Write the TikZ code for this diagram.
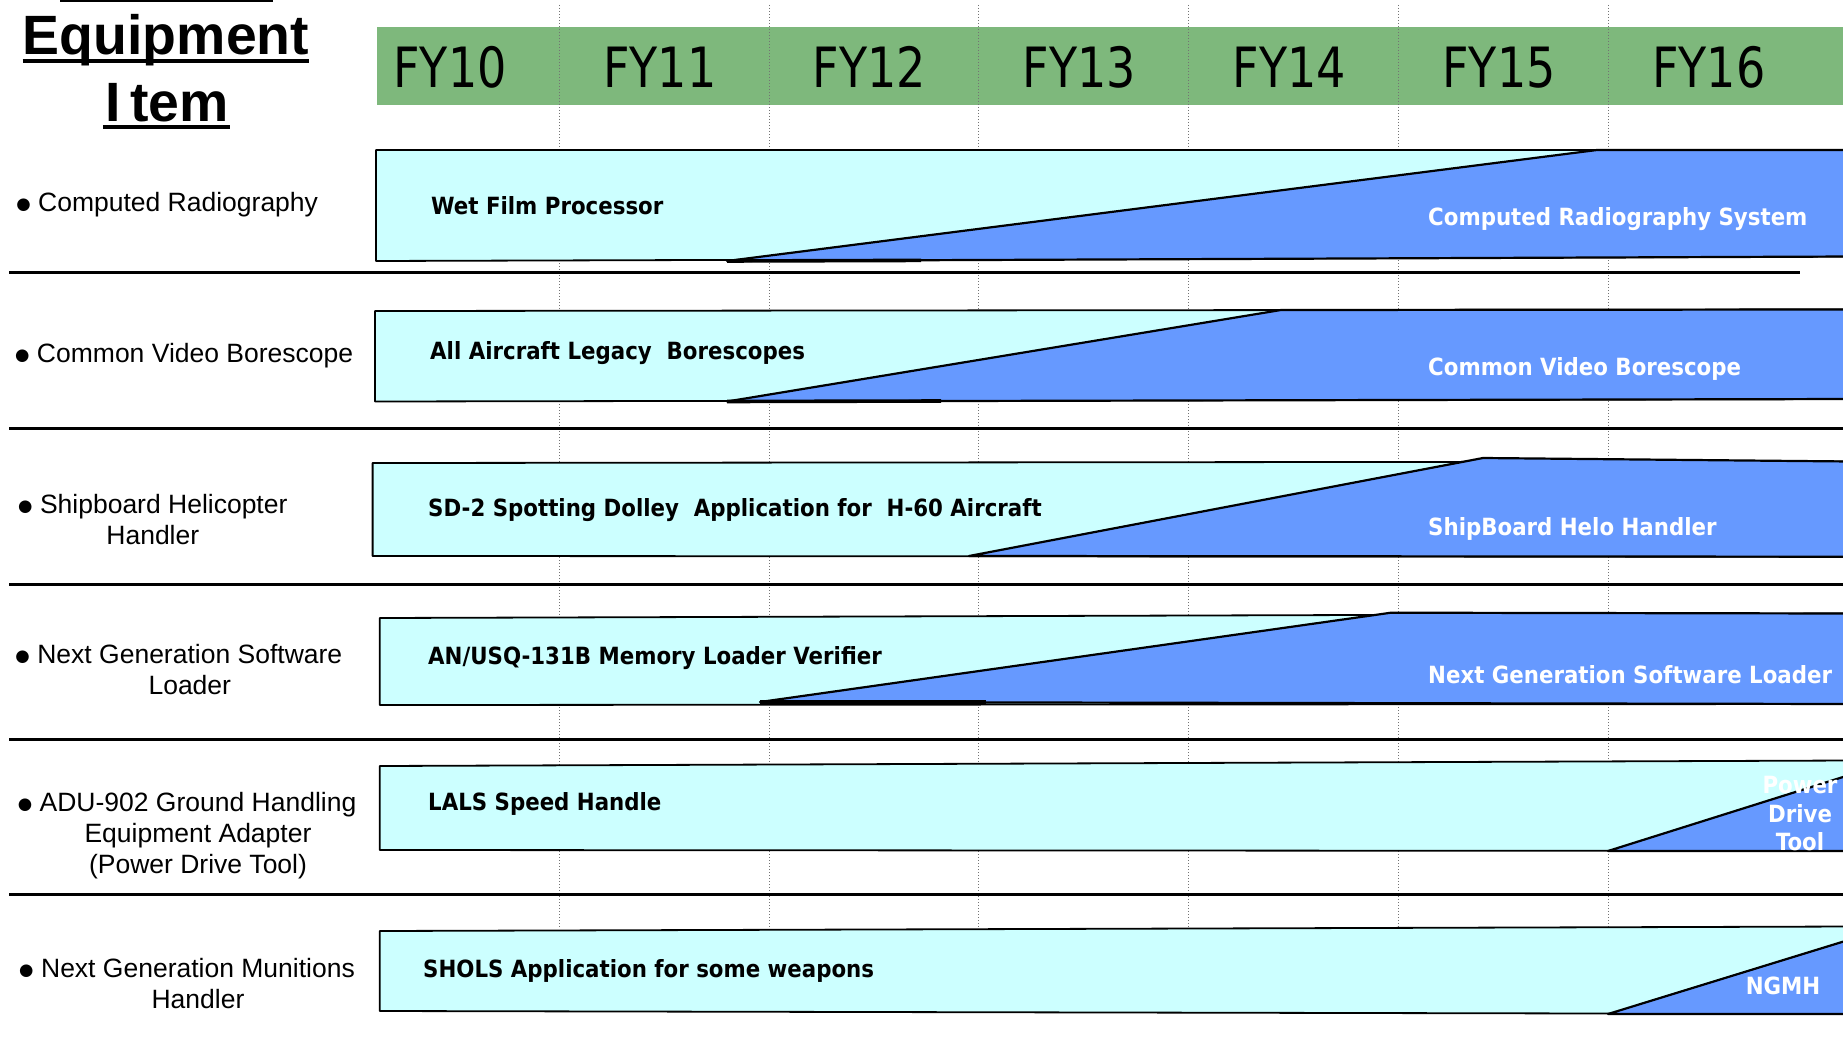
\documentclass[tikz,border=0pt]{standalone}
\usepackage{fontspec}
\setmainfont{Liberation Sans}
\newfontfamily\barfont{DejaVu Sans}[FakeStretch=0.9]
\newfontfamily\yearfont{DejaVu Sans}[FakeStretch=0.83]
\newfontfamily\bulfont{DejaVu Sans}
\definecolor{bandgreen}{RGB}{126,184,124}
\definecolor{oldfill}{RGB}{204,255,255}
\definecolor{newfill}{RGB}{102,153,255}
% bullet glyph, hanging to the left of the first line or set inline
\newcommand{\bulglyph}{\raisebox{1.8pt}{\bulfont\fontsize{16.5}{16.5}\selectfont ●}\hspace{7.5pt}}
\newcommand{\hangbul}{\llap{\bulglyph}}
\tikzset{
  sepline/.style={line width=3pt},
  gridline/.style={black!55, dotted, line width=1pt},
  oldbar/.style={fill=oldfill, draw=black, line width=1.8pt, line join=round},
  newbar/.style={fill=newfill, draw=black, line width=2.2pt, line join=round},
  baseedge/.style={line width=3.6pt},
  oldlbl/.style={anchor=base west, inner sep=0pt, font=\barfont\bfseries\fontsize{23.7}{28.5}\selectfont},
  newlbl/.style={oldlbl, text=white},
  itemlbl/.style={anchor=base, inner sep=0pt, font=\fontsize{26.5}{31}\selectfont},
  yearlbl/.style={anchor=base, inner sep=0pt, font=\yearfont\fontsize{55.5}{60}\selectfont},
  titlelbl/.style={anchor=base, inner sep=0pt, font=\bfseries\fontsize{55.4}{60}\selectfont},
  uline/.style={line width=4pt}
}
\begin{document}
\begin{tikzpicture}[x=1pt,y=-1pt]
\useasboundingbox (0,0) rectangle (1843,1046);
\clip (0,0) rectangle (1843,1046);
\fill[white] (0,0) rectangle (1843,1046);

% heading in the left column
\node[titlelbl] (ttlA) at (166,55) {Equipment};
\node[titlelbl] (ttlB) at (167,121.7) {I\kern10pt tem};
\draw[uline] ([yshift=-6pt]ttlA.base west) -- ([yshift=-6pt]ttlA.base east);
\draw[uline] ([xshift=-2pt,yshift=-5pt]ttlB.base west) -- ([xshift=1pt,yshift=-5pt]ttlB.base east);
\coordinate (topA) at (60,0.5);
\coordinate (topB) at (273,0.5);
\draw[uline] (topA) -- (topB);

% fiscal-year band
\fill[bandgreen] (377,27) rectangle (1850,105);

% year grid
\foreach \gx in {559.5,769.2,978.9,1188.6,1398.3,1608.0}
  \draw[gridline] (\gx,5) -- (\gx,928);

\foreach \lbl [count=\k from 0] in {FY10,FY11,FY12,FY13,FY14,FY15,FY16}
  \node[yearlbl] (yr\k) at (450+209.8*\k,88) {\lbl};

% row separators
\draw[sepline] (9.4,272.5) -- (1800,272.5);
\draw[sepline] (9.4,428) -- (1850,428);
\draw[sepline] (9.4,584) -- (1850,584);
\draw[sepline] (9.4,739.3) -- (1850,739.3);
\draw[sepline] (9.4,894.5) -- (1850,894.5);

% row 1
\path[oldbar] (376,150) -- (1850,150) -- (1850,256.5) -- (376,261) -- cycle;
\path[newbar] (727,261) -- (1597,150) -- (1850,150) -- (1850,256.5) -- cycle;
\draw[baseedge] (727,261) -- (921,260.4);
\node[oldlbl] (old1) at (431,214.4) {Wet Film Processor};
\node[newlbl] (new1) at (1428,225) {Computed Radiography System};

% row 2
\path[oldbar] (375,311) -- (1850,309.5) -- (1850,399) -- (375,401.5) -- cycle;
\path[newbar] (727,401.5) -- (1281,310) -- (1850,309.5) -- (1850,399) -- cycle;
\draw[baseedge] (727,401.5) -- (941,401);
\node[oldlbl] (old2) at (430,359) {All Aircraft Legacy\ \ Borescopes};
\node[newlbl] (new2) at (1428,375) {Common Video Borescope};

% row 3
\path[oldbar] (372.6,463) -- (1850,461.5) -- (1850,556.7) -- (372.6,556) -- cycle;
\path[newbar] (969,556) -- (1483,458) -- (1850,461.5) -- (1850,556.7) -- cycle;
\node[oldlbl] (old3) at (428,516.5) {SD-2 Spotting Dolley\ \ Application for\ \ H-60 Aircraft};
\node[newlbl] (new3) at (1428,535) {ShipBoard Helo Handler};

% row 4
\path[oldbar] (379.7,618) -- (1850,613.5) -- (1850,704) -- (379.7,705) -- cycle;
\path[newbar] (760,702) -- (1391,612.7) -- (1850,613.5) -- (1850,704) -- cycle;
\draw[baseedge] (760,702) -- (986,702);
\node[oldlbl] (old4) at (428,664.6) {AN/USQ-131B Memory Loader Verifier};
\node[newlbl] (new4) at (1428,683) {Next Generation Software Loader};

% row 5
\path[oldbar] (379.7,766) -- (1850,760.5) -- (1850,851) -- (379.7,850) -- cycle;
\path[newbar] (1608,851) -- (1850,774.8) -- (1850,851) -- cycle;
\node[oldlbl] (old5) at (428,810.3) {LALS Speed Handle};
\node[newlbl, anchor=base] (new5) at (1800,793.7)
  {\begin{tabular}[t]{@{}c@{}}Power\\Drive\\Tool\end{tabular}};

% row 6
\path[oldbar] (379.7,931) -- (1850,926.5) -- (1850,1014) -- (379.7,1011) -- cycle;
\path[newbar] (1608,1014) -- (1850,939.5) -- (1850,1014) -- cycle;
\node[oldlbl] (old6) at (423,977) {SHOLS Application for some weapons};
\node[newlbl, anchor=base] (new6) at (1783,994.7) {NGMH};

% equipment items
\node[itemlbl] (item1) at (178.1,211.7) {\hangbul Computed Radiography};
\node[itemlbl] (item2) at (195.1,362) {\hangbul Common Video Borescope};
\node[itemlbl] (item3) at (152.8,513.7)
  {\begin{tabular}[t]{@{}c@{}}\bulglyph Shipboard Helicopter\\Handler\end{tabular}};
\node[itemlbl] (item4) at (189.8,663)
  {\begin{tabular}[t]{@{}c@{}}\hangbul Next Generation Software\\Loader\end{tabular}};
\node[itemlbl] (item5) at (198,811.5)
  {\begin{tabular}[t]{@{}c@{}}\hangbul ADU-902 Ground Handling\\Equipment Adapter\\(Power Drive Tool)\end{tabular}};
\node[itemlbl] (item6) at (198,977)
  {\begin{tabular}[t]{@{}c@{}}\hangbul Next Generation Munitions\\Handler\end{tabular}};
\end{tikzpicture}
\end{document}
